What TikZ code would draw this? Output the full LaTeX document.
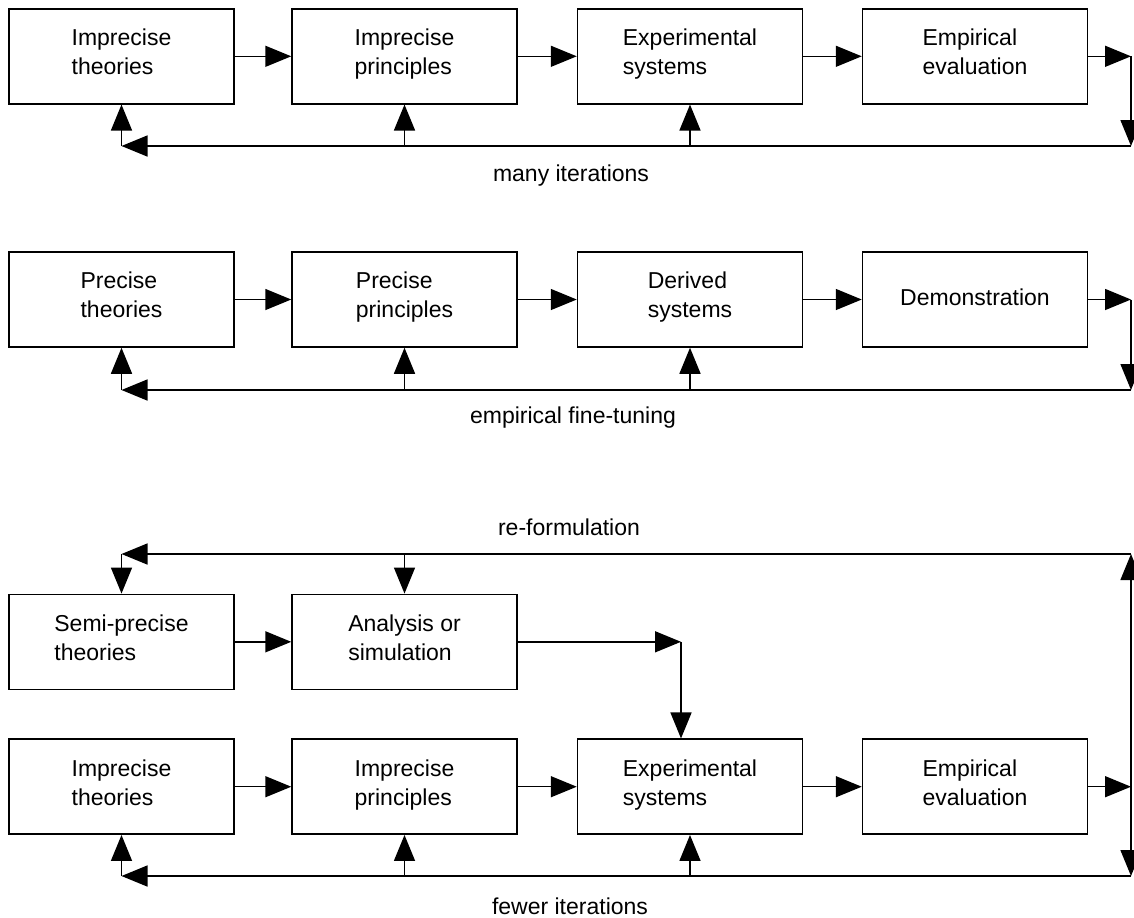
\documentclass[tikz,border=0pt]{standalone}
\usepackage{fontspec}
\setmainfont{Liberation Sans}
\usetikzlibrary{arrows.meta, positioning}

\tikzset{
  box/.style={draw, line width=0.75pt, minimum width=112.5pt, minimum height=47.5pt,
              align=left, inner sep=2pt, font=\fontsize{11.5}{14.5}\selectfont,
              execute at begin node=\strut, execute at end node=\strut},
  arr/.style={-{Triangle[length=13pt,width=10.5pt]}, line width=0.75pt},
  lbl/.style={font=\fontsize{11.5}{14.5}\selectfont}
}

\begin{document}
\begin{tikzpicture}[x=0.5pt, y=-0.5pt]
  \useasboundingbox (0,0) rectangle (1134,917);

  % row 1: imprecise route
  \node[box] (it1) at (121.5,56.3) {Imprecise\\theories};
  \node[box] (ip1) at (404.5,56.3) {Imprecise\\principles};
  \node[box] (es1) at (690,56.3)   {Experimental\\systems};
  \node[box] (ee1) at (975,56.3)   {Empirical\\evaluation};
  \node[lbl] (n1) at (571,176) {many iterations};

  \coordinate (r1) at (1131,56.3);
  \coordinate (f1) at (1131,146);
  \draw[arr] (it1) -- (ip1);
  \draw[arr] (ip1) -- (es1);
  \draw[arr] (es1) -- (ee1);
  \draw[arr] (ee1) -- (r1);
  \draw[arr] (r1) -- (f1);
  \draw[arr] (f1) -- (it1.south |- f1);
  \foreach \b in {it1,ip1,es1} \draw[arr] (\b.south |- f1) -- (\b.south);

  % row 2: precise route
  \node[box] (pt2) at (121.5,299.5) {Precise\\theories};
  \node[box] (pp2) at (404.5,299.5) {Precise\\principles};
  \node[box] (ds2) at (690,299.5)   {Derived\\systems};
  \node[box] (dm2) at (975,299.5)   {Demonstration};
  \node[lbl] (n2) at (573,418) {empirical fine-tuning};

  \coordinate (r2) at (1131,299.5);
  \coordinate (f2) at (1131,390);
  \draw[arr] (pt2) -- (pp2);
  \draw[arr] (pp2) -- (ds2);
  \draw[arr] (ds2) -- (dm2);
  \draw[arr] (dm2) -- (r2);
  \draw[arr] (r2) -- (f2);
  \draw[arr] (f2) -- (pt2.south |- f2);
  \foreach \b in {pt2,pp2,ds2} \draw[arr] (\b.south |- f2) -- (\b.south);

  % rows 3-4: semi-precise route
  \node[lbl] (n3) at (569,527) {re-formulation};
  \node[box] (st3) at (121.5,641.8) {Semi-precise\\theories};
  \node[box] (as3) at (404.5,641.8) {Analysis or\\simulation};
  \node[box] (it4) at (121.5,786.7) {Imprecise\\theories};
  \node[box] (ip4) at (404.5,786.7) {Imprecise\\principles};
  \node[box] (es4) at (690,786.7)   {Experimental\\systems};
  \node[box] (ee4) at (975,786.7)   {Empirical\\evaluation};
  \node[lbl] (n4) at (570,906) {fewer iterations};

  \coordinate (r4) at (1131,786.7);
  \coordinate (u3) at (1131,554);
  \coordinate (f4) at (1131,876);
  \coordinate (a3) at (681,641.8);
  \draw[arr] (st3) -- (as3);
  \draw[arr] (as3) -- (a3);
  \draw[arr] (a3) -- (a3 |- es4.north);
  \draw[arr] (it4) -- (ip4);
  \draw[arr] (ip4) -- (es4);
  \draw[arr] (es4) -- (ee4);
  \draw[arr] (ee4) -- (r4);
  \draw[arr] (r4) -- (u3);
  \draw[arr] (u3) -- (st3.north |- u3);
  \foreach \b in {st3,as3} \draw[arr] (\b.north |- u3) -- (\b.north);
  \draw[arr] (r4) -- (f4);
  \draw[arr] (f4) -- (it4.south |- f4);
  \foreach \b in {it4,ip4,es4} \draw[arr] (\b.south |- f4) -- (\b.south);
\end{tikzpicture}
\end{document}
